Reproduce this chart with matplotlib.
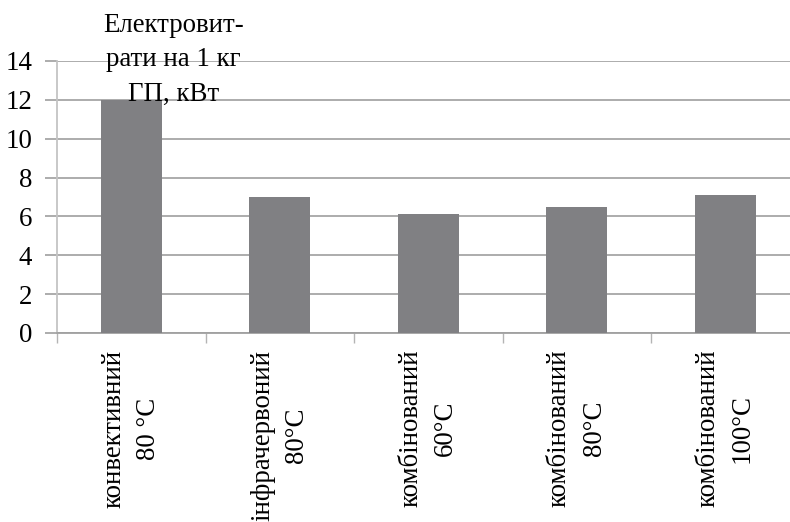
import numpy as np
import matplotlib.pyplot as plt

categories = ["конвективний\n80 °C", "інфрачервоний\n80°C", "комбінований\n60°C",
              "комбінований\n80°C", "комбінований\n100°C"]
values = [12.0, 7.0, 6.1, 6.5, 7.1]
yticks = [0, 2, 4, 6, 8, 10, 12, 14]
title = "Електровит-\nрати на 1 кг\nГП, кВт"

plt.rcParams['font.family'] = ['Liberation Serif', 'DejaVu Serif']
fsize = 19.4

fig = plt.figure(figsize=(7.9, 5.22), dpi=100)
# axes runs slightly past the right edge of the figure
ax = fig.add_axes([57 / 790, 1 - 333 / 522, 742.5 / 790, 272 / 522])

x = np.arange(len(values))
ax.bar(x, values, width=0.41, color='#808083', zorder=3)

ax.set_xlim(-0.5, len(values) - 0.5)
ax.set_ylim(0, 14)
ax.set_yticks(yticks)
ax.set_yticklabels([str(v) for v in yticks], fontsize=fsize)
ax.yaxis.grid(True, color='#a6a6a6', linewidth=1.3, zorder=1)

ax.set_xticks(x)
ax.set_xticklabels(categories, rotation=90, fontsize=fsize, va='top',
                   ha='center', multialignment='center', linespacing=1.5)
ax.set_xticks(np.arange(-0.5, len(values), 1.0), minor=True)
ax.tick_params(axis='x', which='major', length=0, pad=12)
ax.tick_params(axis='x', which='minor', length=7, color='#b4b4b4', width=1)
ax.tick_params(axis='y', length=9, color='#a6a6a6', width=1.3, pad=9)

for side in ['top', 'right']:
    ax.spines[side].set_visible(False)
ax.spines['left'].set_color('#c4c4c4')
ax.spines['left'].set_linewidth(1.3)
ax.spines['bottom'].set_color('#a0a0a0')
ax.spines['bottom'].set_linewidth(1.3)

fig.text(173.5 / 790, 1 - 13 / 522, title, ha='center', va='top', fontsize=fsize,
         linespacing=1.5, zorder=5)

fig.savefig("out.png", dpi=100)
